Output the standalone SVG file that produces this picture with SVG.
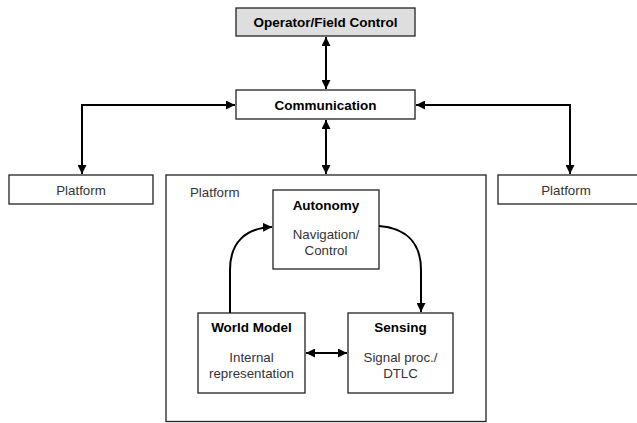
<svg xmlns="http://www.w3.org/2000/svg" width="637" height="423" viewBox="0 0 637 423">
<style>
.box{fill:#fff;stroke:#222;stroke-width:1.3}
.gray{fill:#dedede}
.b{font-family:"Liberation Sans",Arial,sans-serif;font-weight:bold;font-size:13.5px;fill:#000;text-anchor:middle}
.r{font-family:"Liberation Sans",Arial,sans-serif;font-size:13.3px;fill:#333;text-anchor:middle}
.c{fill:none;stroke:#000;stroke-width:2}
</style>
<defs>
<marker id="ah" viewBox="0 0 10 10" refX="10" refY="5" markerWidth="9" markerHeight="9" markerUnits="userSpaceOnUse" orient="auto-start-reverse">
<path d="M0,0 L10,5 L0,10 Z" fill="#000"/>
</marker>
</defs>
<g id="operator">
<rect class="box gray" x="236" y="8" width="179" height="28"/>
<text class="b" x="325.5" y="27">Operator/Field Control</text>
</g>
<g id="communication">
<rect class="box" x="236" y="90" width="179" height="29"/>
<text class="b" x="325.5" y="109.5">Communication</text>
</g>
<g id="platform-left">
<rect class="box" x="9" y="175" width="144" height="29"/>
<text class="r" x="81" y="194.5">Platform</text>
</g>
<g id="platform-right">
<rect class="box" x="498" y="175" width="145" height="29"/>
<text class="r" x="566" y="194.5">Platform</text>
</g>
<g id="platform-main">
<rect class="box" x="166" y="175" width="320" height="246.5"/>
<text class="r" x="190" y="197" style="text-anchor:start">Platform</text>
</g>
<g id="autonomy">
<rect class="box" x="273" y="190" width="106" height="79"/>
<text class="b" x="326" y="210">Autonomy</text>
<text class="r" x="326" y="239">Navigation/</text>
<text class="r" x="326" y="255">Control</text>
</g>
<g id="world-model">
<rect class="box" x="198" y="313" width="107" height="80"/>
<text class="b" x="251.5" y="332">World Model</text>
<text class="r" x="251.5" y="362">Internal</text>
<text class="r" x="251.5" y="378">representation</text>
</g>
<g id="sensing">
<rect class="box" x="348" y="313" width="105" height="80"/>
<text class="b" x="400.5" y="332">Sensing</text>
<text class="r" x="400.5" y="362">Signal proc./</text>
<text class="r" x="400.5" y="378">DTLC</text>
</g>
<g id="connectors">
<path class="c" d="M326,37 L326,89" marker-start="url(#ah)" marker-end="url(#ah)"/>
<path class="c" d="M326,120 L326,174" marker-start="url(#ah)" marker-end="url(#ah)"/>
<path class="c" d="M235,105 L82,105 L82,174" marker-start="url(#ah)" marker-end="url(#ah)"/>
<path class="c" d="M416,105 L570,105 L570,174" marker-start="url(#ah)" marker-end="url(#ah)"/>
<path class="c" d="M230,313 L230,270 C230,242 246,228 272,227" marker-end="url(#ah)"/>
<path class="c" d="M379,226 C405,228 421,242 421,270 L421,312" marker-end="url(#ah)"/>
<path class="c" d="M306,353 L347,353" marker-start="url(#ah)" marker-end="url(#ah)"/>
</g>
</svg>
